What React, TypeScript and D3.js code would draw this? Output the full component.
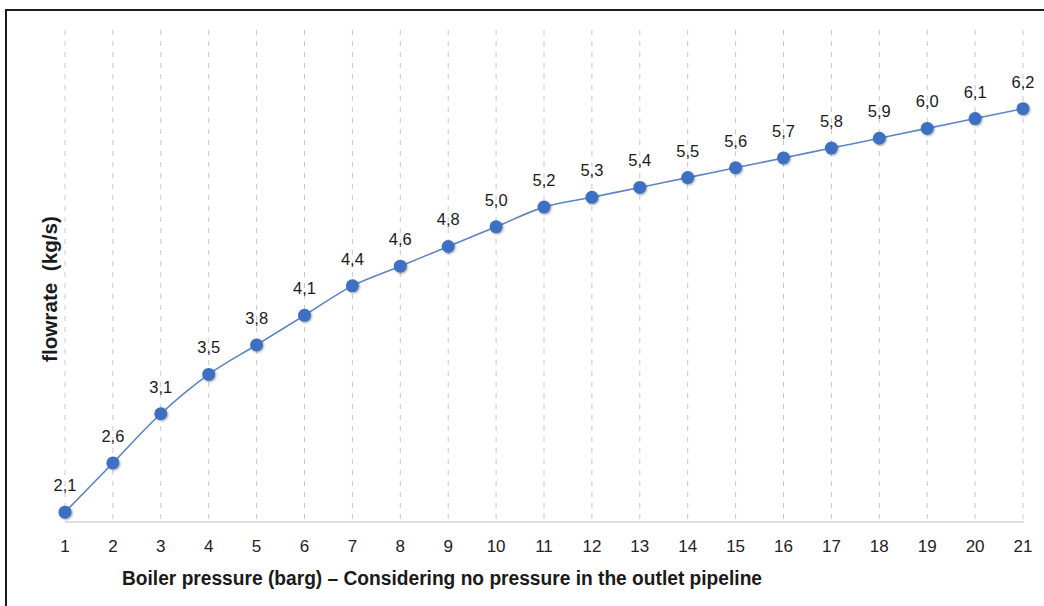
import React from "react";
import * as d3 from "d3";

const categories = [1, 2, 3, 4, 5, 6, 7, 8, 9, 10, 11, 12, 13, 14, 15, 16, 17, 18, 19, 20, 21];
const flowrate = [2.1, 2.6, 3.1, 3.5, 3.8, 4.1, 4.4, 4.6, 4.8, 5.0, 5.2, 5.3, 5.4, 5.5, 5.6, 5.7, 5.8, 5.9, 6.0, 6.1, 6.2];
const yDomain = [2, 7];
const xTitle = "Boiler pressure (barg) \u2013 Considering no pressure in the outlet pipeline";
const yTitle = "flowrate  (kg/s)";

const W = 1044;
const H = 606;

export default function App() {
  const x = d3.scalePoint<number>().domain(categories).range([65, 1023]);
  const y = d3.scaleLinear().domain(yDomain).range([522, 30]);
  const pts: [number, number][] = categories.map((c, i) => [x(c)!, y(flowrate[i])]);
  const line = d3.line().curve(d3.curveCatmullRom.alpha(0.5))(pts) || "";
  const fmt = (v: number) => v.toFixed(1).replace(".", ",");
  const font = "'Liberation Sans', Arial, sans-serif";

  return (
    <svg width={W} height={H} style={{ position: "absolute", left: 0, top: 0, background: "#fff" }}>
      <defs>
        <filter id="sh" x="-50%" y="-50%" width="200%" height="200%">
          <feGaussianBlur in="SourceAlpha" stdDeviation="1" />
          <feOffset dx="0.5" dy="1" result="b" />
          <feComponentTransfer><feFuncA type="linear" slope="0.35" /></feComponentTransfer>
          <feMerge><feMergeNode /><feMergeNode in="SourceGraphic" /></feMerge>
        </filter>
      </defs>
      <rect x={0} y={0} width={W} height={H} fill="#fff" />
      <rect x={6} y={10} width={W + 10} height={H + 10} fill="none" stroke="#1a1a1a" strokeWidth={2} />
      {categories.map((c) => (
        <line key={"g" + c} x1={x(c)} x2={x(c)} y1={y(7)} y2={y(2)} stroke="#c8c8c8" strokeWidth={1} strokeDasharray="5,6" />
      ))}
      <line x1={x(1)} x2={x(21)! + 1} y1={y(2)} y2={y(2)} stroke="#d4d4d4" strokeWidth={1.5} />
      {categories.map((c) => (
        <text key={"t" + c} x={x(c)} y={552} textAnchor="middle" fontFamily={font} fontSize={17} fill="#222">
          {c}
        </text>
      ))}
      <path d={line} fill="none" stroke="#5b84c6" strokeWidth={1.6} />
      {pts.map((p, i) => (
        <circle key={"c" + i} cx={p[0]} cy={p[1]} r={6.5} fill="#3d6fc2" filter="url(#sh)" />
      ))}
      {pts.map((p, i) => (
        <text key={"l" + i} x={p[0]} y={p[1] - 21} textAnchor="middle" fontFamily={font} fontSize={16.5} fill="#1a1a1a">
          {fmt(flowrate[i])}
        </text>
      ))}
      <text x={122} y={585} fontFamily={font} fontWeight="bold" fontSize={20} fill="#1a1a1a" textLength={640} lengthAdjust="spacingAndGlyphs">
        {xTitle}
      </text>
      <text transform={`translate(57,289) rotate(-90)`} textAnchor="middle" fontFamily={font} fontWeight="bold" fontSize={20} fill="#1a1a1a" textLength={146} lengthAdjust="spacingAndGlyphs" style={{ whiteSpace: "pre" }}>
        {yTitle}
      </text>
    </svg>
  );
}
